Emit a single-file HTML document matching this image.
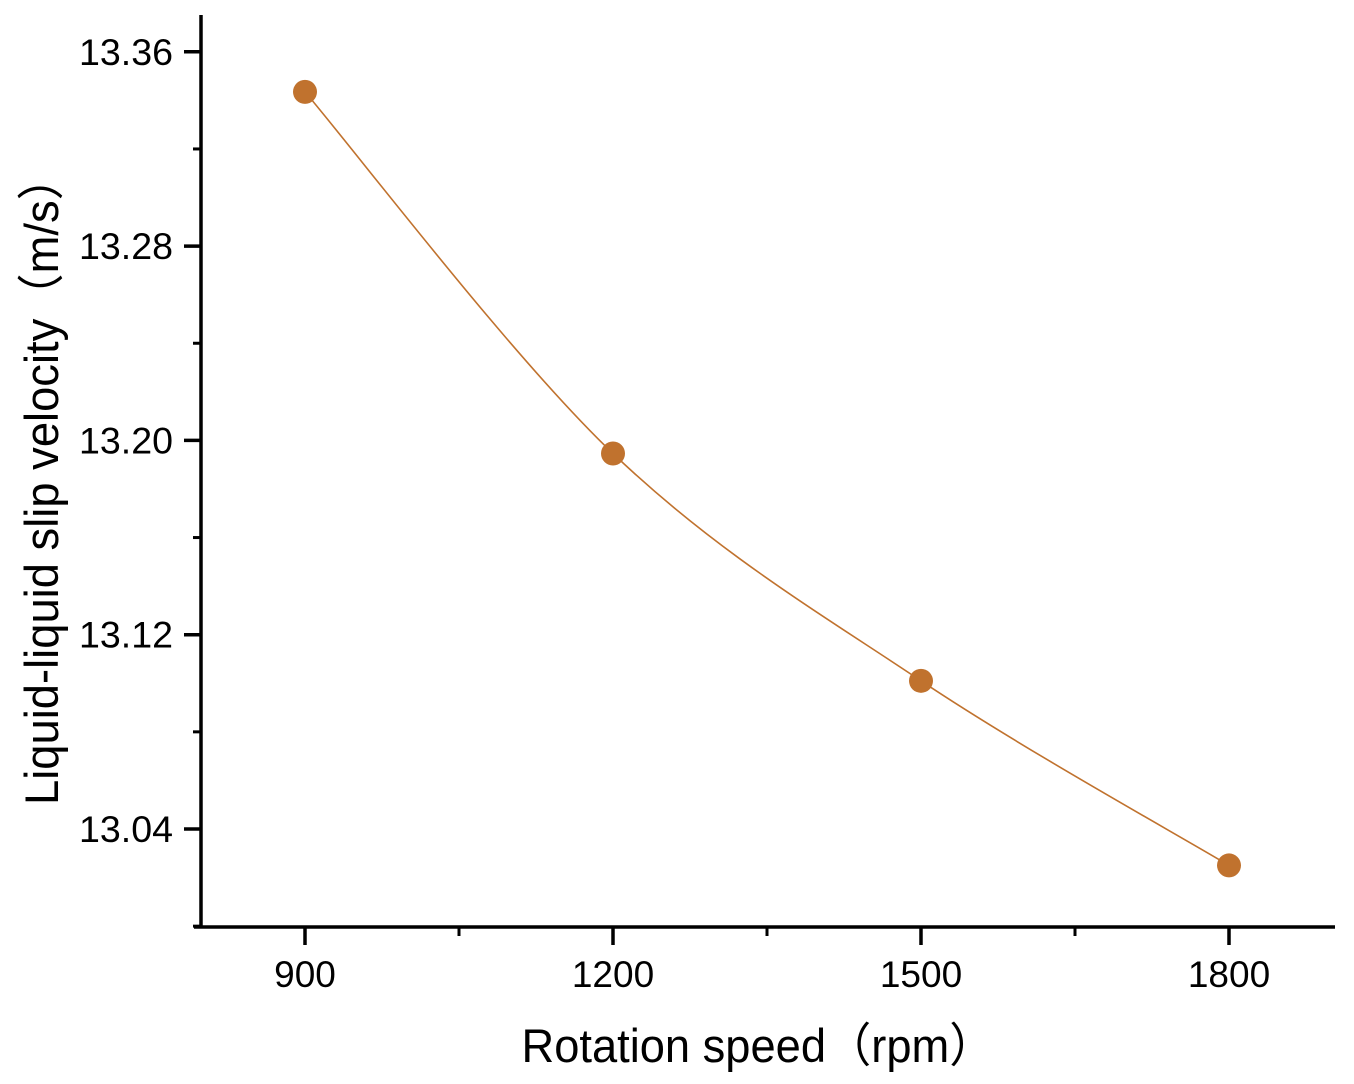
<!DOCTYPE html>
<html><head><meta charset="utf-8"><style>
html,body{margin:0;padding:0;background:#fff;width:1354px;height:1084px;overflow:hidden}
svg{display:block}
text{font-family:"Liberation Sans","Noto Sans CJK SC",sans-serif;fill:#000}
</style></head><body>
<svg id="chart" width="1354" height="1084"></svg>
<script>
const categories=[900,1200,1500,1800];
const slipVelocity=[13.3435,13.1946,13.101,13.025];
const yTicks=[13.04,13.12,13.20,13.28,13.36];
const yTickLabels=["13.04","13.12","13.20","13.28","13.36"];
const xTickLabels=["900","1200","1500","1800"];

const NS="http://www.w3.org/2000/svg";
const svg=document.getElementById('chart');
const X0=201,Y0=927;
function sx(v){return 305+(v-900)*308/300;}
function sy(v){return 829-(v-13.04)*194.3/0.08;}
function el(tag,attrs,parent){const e=document.createElementNS(NS,tag);for(const k in attrs)e.setAttribute(k,attrs[k]);(parent||svg).appendChild(e);return e;}

const axes=el('g',{});


const yl=el('line',{x1:X0,y1:15,x2:X0,y2:Y0+1.5,stroke:'#000','stroke-width':3.5},axes);


const xl=el('line',{x1:194,y1:Y0,x2:1335,y2:Y0,stroke:'#000','stroke-width':3.5},axes);



yTicks.forEach((v,i)=>{
  const y=sy(v);
  const t=el('line',{x1:X0-17,y1:y,x2:X0,y2:y,stroke:'#000','stroke-width':3.5},axes);
  
  
  const m=el('line',{x1:X0-8,y1:y-97.15,x2:X0,y2:y-97.15,stroke:'#000','stroke-width':3},axes);
  
  
  const lb=el('text',{x:X0-28,y:y+13,'text-anchor':'end','font-size':37,textLength:94,lengthAdjust:'spacingAndGlyphs'},axes);
  lb.textContent=yTickLabels[i];
  
  
});
const m0=el('line',{x1:X0-8,y1:sy(13.04)+97.15,x2:X0,y2:sy(13.04)+97.15,stroke:'#000','stroke-width':3},axes);



categories.forEach((c,i)=>{
  const x=sx(c);
  const t=el('line',{x1:x,y1:Y0,x2:x,y2:Y0+18,stroke:'#000','stroke-width':3.5},axes);
  
  
  if(i<categories.length-1){
    const m=el('line',{x1:x+154,y1:Y0,x2:x+154,y2:Y0+9,stroke:'#000','stroke-width':3},axes);
    
    
  }
  const lb=el('text',{x:x,y:987,'text-anchor':'middle','font-size':37},axes);
  lb.textContent=xTickLabels[i];
  
  
});

const xt=el('text',{x:758,y:1062,'text-anchor':'middle','font-size':47,textLength:473,lengthAdjust:'spacingAndGlyphs'});
xt.textContent='Rotation speed（rpm）';


const yt=el('text',{x:0,y:0,'text-anchor':'middle','font-size':47,textLength:650,lengthAdjust:'spacingAndGlyphs',transform:'translate(58,480) rotate(-90)'});
yt.textContent='Liquid-liquid slip velocity（m/s）';



const pts=categories.map((c,i)=>[sx(c),sy(slipVelocity[i])]);
let d=`M${pts[0][0]},${pts[0][1]}`;
for(let i=0;i<pts.length-1;i++){
  const p0=pts[i-1]||pts[i],p1=pts[i],p2=pts[i+1],p3=pts[i+2]||p2;
  const c1=[p1[0]+(p2[0]-p0[0])/6,p1[1]+(p2[1]-p0[1])/6];
  const c2=[p2[0]-(p3[0]-p1[0])/6,p2[1]-(p3[1]-p1[1])/6];
  d+=` C${c1[0]},${c1[1]} ${c2[0]},${c2[1]} ${p2[0]},${p2[1]}`;
}
const line=el('path',{d:d,fill:'none',stroke:'#c0722e','stroke-width':1.6});


pts.forEach(p=>{
  const c=el('circle',{cx:p[0],cy:p[1],r:12,fill:'#c0722e'});
  
  
});
</script>
</body></html>
